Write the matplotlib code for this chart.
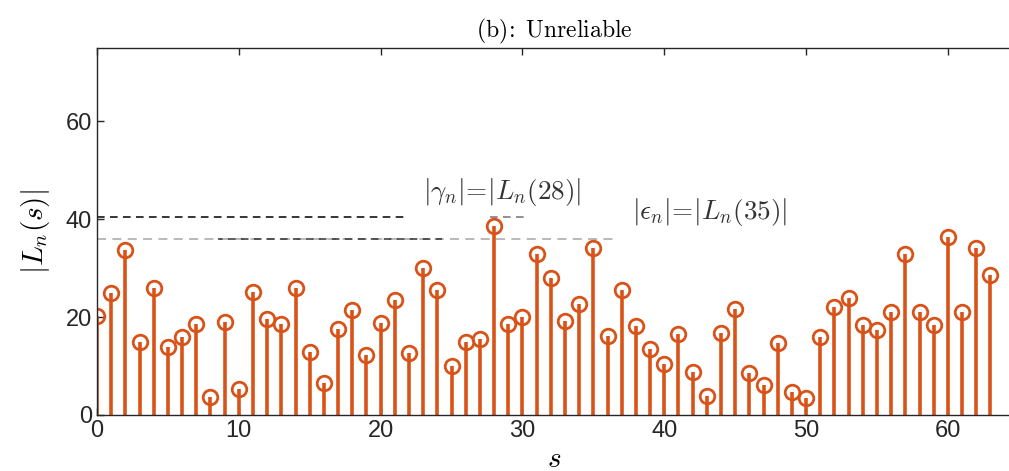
import numpy as np
import matplotlib.pyplot as plt

plt.rcParams['mathtext.fontset'] = 'cm'
plt.rcParams['font.family'] = ['Liberation Sans', 'DejaVu Sans']

# |L_n(s)|, s = 0..63
s_vals = np.arange(64)
Ln_abs = [20.3, 24.9, 33.8, 14.9, 25.9, 14.0, 16.0, 18.7, 3.6, 19.0,
          5.3, 25.1, 19.7, 18.5, 25.9, 12.9, 6.5, 17.6, 21.4, 12.2,
          18.8, 23.5, 12.7, 30.1, 25.5, 10.1, 14.9, 15.5, 38.6, 18.6,
          20.0, 32.9, 28.1, 19.2, 22.6, 34.2, 16.2, 25.5, 18.1, 13.5,
          10.5, 16.6, 8.7, 3.8, 16.8, 21.6, 8.6, 6.2, 14.7, 4.8,
          3.4, 16.0, 22.1, 24.0, 18.4, 17.3, 21.1, 32.9, 21.0, 18.4,
          36.4, 21.0, 34.1, 28.6]

# guide levels / annotation text
gamma_level = 40.5
eps_level = 35.9
gamma_txt = r'$|\gamma_n|\!=\!|L_n(28)|$'
eps_txt = r'$|\epsilon_n|\!=\!|L_n(35)|$'

orange = '#D95319'
axcol = '#262626'

fig = plt.figure(figsize=(10.09, 4.71), dpi=100)
ax = fig.add_axes([0.0961, 0.1189, 0.9066, 0.779])

# dashed guide lines
ax.plot([0, 36.5], [eps_level, eps_level], ls=(0, (5, 3.5)), color='0.7', lw=1.3, zorder=1)
ax.plot([8.5, 24.3], [eps_level, eps_level], ls=(2, (5, 3.5)), color='0.2', lw=1.1, zorder=1)
ax.plot([0, 21.9], [gamma_level, gamma_level], ls=(0, (5, 3.5)), color='k', lw=1.1, zorder=1)
ax.plot([27.7, 30.2], [gamma_level, gamma_level], ls=(0, (5, 3.5)), color='0.45', lw=1.1, zorder=1)

markerline, stemlines, baseline = ax.stem(s_vals, Ln_abs, linefmt='-', markerfmt='o', basefmt=' ')
plt.setp(stemlines, color=orange, linewidth=2.6)
plt.setp(markerline, color=orange, markeredgecolor=orange,
         markersize=10.5, markeredgewidth=2.0)
markerline.set_markerfacecolor('none')

ax.text(28.6, 45.6, gamma_txt, fontsize=19.5, ha='center', va='center', color='#333333')
ax.text(43.2, 41.5, eps_txt, fontsize=19.5, ha='center', va='center', color='#333333')

ax.set_xlim(0, 64.5)
ax.set_ylim(0, 75)
ax.set_xticks([0, 10, 20, 30, 40, 50, 60])
ax.set_yticks([0, 20, 40, 60])
ax.tick_params(direction='in', length=5, width=1.0, colors=axcol, labelsize=17,
               top=True, right=False, labelcolor=axcol)
for sp in ax.spines.values():
    sp.set_color(axcol)
    sp.set_linewidth(1.0)
ax.spines['right'].set_visible(False)

ax.set_xlabel(r'$s$', fontsize=21, labelpad=2)
ax.set_ylabel(r'$|L_n(s)|$', fontsize=21, labelpad=10)
ax.set_title(r'$\mathrm{(b)\!:\ Unreliable}$', fontsize=17, pad=8)

fig.savefig('out.png', dpi=100)
